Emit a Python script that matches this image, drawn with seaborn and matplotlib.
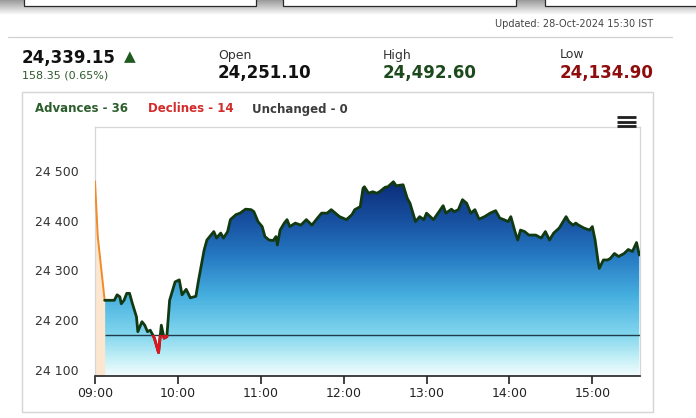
import numpy as np
import pandas as pd
import matplotlib
matplotlib.use("Agg")
import matplotlib.pyplot as plt
import seaborn as sns
from matplotlib.colors import LinearSegmentedColormap, Normalize
from matplotlib.patches import PathPatch, Rectangle
from matplotlib.lines import Line2D

# opening ticks (orange part)
open_times = ["09:00", "09:02", "09:07"]
open_vals = [24479, 24368, 24240]

# intraday index values
main_times = [
    "09:07", "09:14", "09:16", "09:18", "09:19", "09:21", "09:23", "09:25", "09:27", "09:30",
    "09:31", "09:34", "09:36", "09:38", "09:40", "09:43", "09:46", "09:48", "09:50", "09:52",
    "09:54", "09:58", "10:01", "10:03", "10:06", "10:09", "10:13", "10:15", "10:19", "10:21",
    "10:24", "10:26", "10:28", "10:31", "10:33", "10:36", "10:38", "10:42", "10:45", "10:49",
    "10:53", "10:55", "10:58", "11:01", "11:03", "11:06", "11:09", "11:11", "11:12", "11:14",
    "11:17", "11:19", "11:21", "11:25", "11:29", "11:33", "11:37", "11:41", "11:44", "11:48",
    "11:51", "11:54", "11:57", "12:02", "12:06", "12:08", "12:12", "12:14", "12:15", "12:18",
    "12:21", "12:24", "12:26", "12:30", "12:32", "12:36", "12:38", "12:43", "12:46", "12:48",
    "12:52", "12:55", "12:58", "13:00", "13:05", "13:09", "13:12", "13:14", "13:18", "13:20",
    "13:23", "13:26", "13:29", "13:32", "13:35", "13:38", "13:42", "13:46", "13:50", "13:53",
    "13:56", "13:59", "14:01", "14:04", "14:06", "14:08", "14:11", "14:14", "14:19", "14:23",
    "14:26", "14:29", "14:32", "14:36", "14:41", "14:43", "14:46", "14:48", "14:50", "14:54",
    "14:58", "15:00", "15:02", "15:04", "15:05", "15:08", "15:11", "15:13", "15:16", "15:19",
    "15:23", "15:26", "15:29", "15:32", "15:34",
]
main_vals = [
    24240, 24240, 24251, 24247, 24233, 24240, 24254, 24254, 24234, 24207,
    24177, 24197, 24190, 24177, 24180, 24164, 24135, 24190, 24164, 24167,
    24240, 24277, 24281, 24251, 24262, 24245, 24248, 24281, 24341, 24361,
    24371, 24378, 24365, 24375, 24365, 24378, 24402, 24412, 24415, 24423,
    24422, 24418, 24398, 24388, 24368, 24361, 24360, 24368, 24351, 24381,
    24395, 24402, 24388, 24395, 24391, 24402, 24391, 24405, 24415, 24415,
    24422, 24415, 24408, 24402, 24412, 24422, 24428, 24465, 24468, 24455,
    24458, 24455, 24458, 24467, 24468, 24478, 24470, 24472, 24445, 24435,
    24398, 24408, 24402, 24415, 24402, 24418, 24430, 24415, 24423, 24418,
    24422, 24442, 24435, 24415, 24422, 24403, 24408, 24415, 24420, 24405,
    24402, 24398, 24408, 24378, 24361, 24381, 24378, 24371, 24371, 24365,
    24378, 24361, 24375, 24385, 24408, 24398, 24391, 24395, 24391, 24385,
    24381, 24388, 24361, 24321, 24304, 24321, 24321, 24324, 24334, 24328,
    24334, 24342, 24338, 24356, 24331,
]
prev_close = 24170

tick_labels = ["09:00", "10:00", "11:00", "12:00", "13:00", "14:00", "15:00"]
y_ticks = [24100, 24200, 24300, 24400, 24500]

last_txt = "24,339.15"
change_txt = "158.35 (0.65%)"
open_txt, high_txt, low_txt = "24,251.10", "24,492.60", "24,134.90"
updated_txt = "Updated: 28-Oct-2024 15:30 IST"
legend_items = [("Advances - 36", "#2b5e2b"), ("Declines - 14", "#d42a2a"), ("Unchanged - 0", "#3d3d3d")]


def to_min(s):
    h, m = s.split(":")
    return int(h) * 60 + int(m)


df = pd.DataFrame({"t": [to_min(s) for s in main_times], "v": main_vals})
df_open = pd.DataFrame({"t": [to_min(s) for s in open_times], "v": open_vals})

sns.set_theme(style="white")
plt.rcParams["font.family"] = ["DejaVu Sans"]

W, H = 696, 418
fig = plt.figure(figsize=(W / 100, H / 100), dpi=100)
fig.patch.set_facecolor("white")


def fx(px):
    return px / W


def fy(py):
    return 1 - py / H


# top grey strip with tabs
band = fig.add_axes([0, fy(15), 1, 15 / H])
band.imshow(np.linspace(0, 1, 50).reshape(-1, 1), cmap=LinearSegmentedColormap.from_list("g", ["#9a9a9a", "#ffffff"]),
            aspect="auto", extent=[0, 1, 0, 1])
band.axis("off")
for x0, x1 in [(24, 256), (283, 516), (545, 720)]:
    fig.add_artist(Rectangle((fx(x0), fy(6)), (x1 - x0) / W, 10 / H, transform=fig.transFigure,
                             facecolor="white", edgecolor="#2a2a2a", lw=0.9))

fig.text(fx(653), fy(24), updated_txt, ha="right", va="center", fontsize=7, color="#444444")
fig.add_artist(Line2D([fx(8), fx(672)], [fy(37), fy(37)], color="#d0d0d0", lw=0.9))

# header numbers
fig.text(fx(22), fy(58), last_txt, ha="left", va="center", fontsize=12, fontweight="bold", color="#111111")
fig.text(fx(124), fy(57), "\u25B2", ha="left", va="center", fontsize=11, color="#1f5a1f")
fig.text(fx(22), fy(75), change_txt, ha="left", va="center", fontsize=8, color="#2f5a2f")
for x, lab, val, col in [(218, "Open", open_txt, "#111111"), (383, "High", high_txt, "#1d4a1d"),
                         (560, "Low", low_txt, "#8e0d0d")]:
    fig.text(fx(x), fy(55), lab, ha="left", va="center", fontsize=9, color="#333333")
    fig.text(fx(x), fy(73), val, ha="left", va="center", fontsize=12, fontweight="bold", color=col)

# card
fig.add_artist(Rectangle((fx(22), fy(412)), 631 / W, 320 / H, transform=fig.transFigure,
                         fill=False, edgecolor="#d5d5d5", lw=1))
lx = 35
for txt, col in legend_items:
    t = fig.text(fx(lx), fy(109), txt, ha="left", va="center", fontsize=8.5, fontweight="bold", color=col)
    lx += {"Advances - 36": 113, "Declines - 14": 104}.get(txt, 0)

# hamburger icon
for yy in (117, 121.5, 126):
    fig.add_artist(Line2D([fx(617), fx(636)], [fy(yy), fy(yy)], color="#1e1e1e", lw=2.0,
                          solid_capstyle="butt"))

# chart
ymin, ymax = 24088, 24588
xmin, xmax = 540, 934.5
ax = fig.add_axes([fx(95), fy(376), (640 - 95) / W, (376 - 127) / H])

grad_cmap = LinearSegmentedColormap.from_list("fill", [
    (0.00, "#f2fdfe"), (0.08, "#c8f1f7"), (0.21, "#82d6ee"), (0.41, "#46afdf"),
    (0.62, "#2577c1"), (0.80, "#17509f"), (1.00, "#0c2a78")])
poly = ax.fill_between(df["t"], df["v"], ymin, color="none", lw=0)
patch = PathPatch(poly.get_paths()[0], transform=ax.transData, facecolor="none", edgecolor="none")
ax.add_patch(patch)
grad = np.linspace(ymin, 24480, 300).reshape(-1, 1)
im = ax.imshow(grad, extent=[df["t"].min(), df["t"].max(), ymin, 24480], origin="lower", aspect="auto",
               cmap=grad_cmap, norm=Normalize(ymin, 24480), zorder=1)
im.set_clip_path(patch)

ax.fill_between(df_open["t"], df_open["v"], ymin, color="#fde6cf", lw=0, zorder=1)

ax.hlines(prev_close, df["t"].min(), xmax, color="#1f3a48", lw=1.0, zorder=3)

sns.lineplot(data=df_open, x="t", y="v", ax=ax, color="#f28a2a", lw=1.4, zorder=4)
sns.lineplot(data=df, x="t", y="v", ax=ax, color="#123a12", lw=2.0, zorder=4)
sns.lineplot(data=df, x="t", y="v", ax=ax, color="#e0141e", lw=2.0, zorder=5)
red = ax.lines[-1]
red.set_clip_path(Rectangle((xmin - 10, ymin - 50), 500, prev_close - ymin + 50, transform=ax.transData))

ax.set_xlim(xmin, xmax)
ax.set_ylim(ymin, ymax)
ax.set_xlabel("")
ax.set_ylabel("")
ax.set_xticks([to_min(s) for s in tick_labels])
ax.set_xticklabels(tick_labels)
ax.set_yticks(y_ticks)
ax.set_yticklabels([f"{v:,}".replace(",", " ") for v in y_ticks])
ax.tick_params(axis="x", bottom=True, length=6, width=1.2, color="#222222", direction="out",
               pad=2, labelsize=9, labelcolor="#222222")
ax.tick_params(axis="y", left=False, length=0, pad=12, labelsize=9, labelcolor="#333333")
ax.grid(False)
ax.spines["bottom"].set_color("#222222")
ax.spines["bottom"].set_linewidth(1.2)
for s in ("left", "top", "right"):
    ax.spines[s].set_color("#d6d6d6")
    ax.spines[s].set_linewidth(0.9)

fig.savefig("out.png", dpi=100)
